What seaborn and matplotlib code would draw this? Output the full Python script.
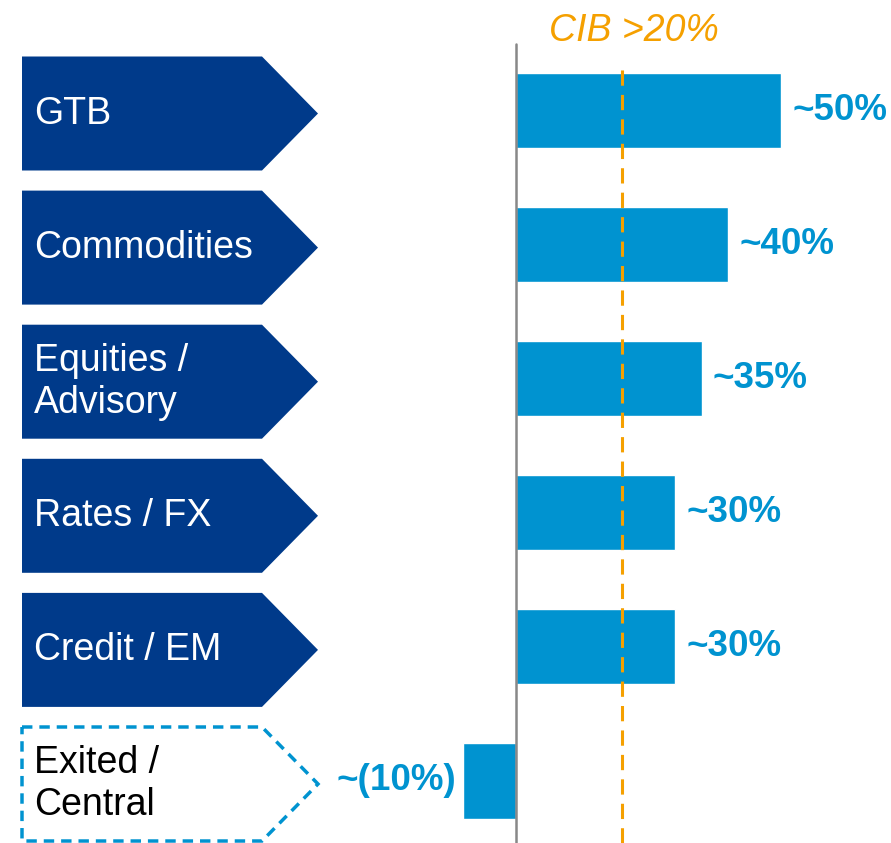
import matplotlib
matplotlib.use("Agg")
import matplotlib.pyplot as plt
import matplotlib.transforms as mtransforms
from matplotlib.patches import Polygon
import seaborn as sns
import pandas as pd

categories = ["GTB", "Commodities", "Equities /\nAdvisory", "Rates / FX", "Credit / EM", "Exited /\nCentral"]
values = [50, 40, 35, 30, 30, -10]
value_labels = ["~50%", "~40%", "~35%", "~30%", "~30%", "~(10%)"]
threshold = 20
threshold_label = "CIB >20%"

NAVY = "#003A8A"
BLUE = "#0093D0"
ORANGE = "#F5A000"
GRAY = "#888888"

sns.set_style("white")
plt.rcParams["font.family"] = ["Liberation Sans", "DejaVu Sans"]

df = pd.DataFrame({"cat": categories, "val": values})

fig = plt.figure(figsize=(8.91, 8.43), dpi=100)
ax = fig.add_axes([0, 0, 1, 1])
sns.barplot(data=df, y="cat", x="val", orient="h", color=BLUE, width=0.56,
            saturation=1, ax=ax)

W, H = 891, 843
x0px, scale = 516, 5.3
c0px, step = 110.5, 134.1
ax.set_xlim((0 - x0px) / scale, (W - x0px) / scale)
ax.set_ylim((H - c0px) / step, (0 - c0px) / step)
ax.axis("off")

# zero line and threshold
ax.axvline(0, ymin=0, ymax=1 - 44 / H, color=GRAY, lw=1.8, zorder=1)
ax.axvline(threshold, ymin=0, ymax=1 - 64 / H, color=ORANGE, lw=2.2,
           ls=(0, (5, 3)), zorder=3)
ax.text(threshold + 2.2, (31 - c0px) / step, threshold_label, color=ORANGE,
        fontsize=27, style="italic", ha="center", va="center")

# value labels
pos_labels = [l if v >= 0 else "" for l, v in zip(value_labels, values)]
neg_labels = [l if v < 0 else "" for l, v in zip(value_labels, values)]
for cont in ax.containers:
    ax.bar_label(cont, labels=pos_labels, padding=8, fontsize=26.5,
                 fontweight="bold", color=BLUE)
    ax.bar_label(cont, labels=neg_labels, padding=5, fontsize=26.5,
                 fontweight="bold", color=BLUE)

# chevrons
tr = mtransforms.blended_transform_factory(ax.transAxes, ax.transData)
xl, xb, xt = 22 / W, 262 / W, 318 / W
hh = 57 / step
dy = 3 / step
for i, cat in enumerate(categories):
    c = i + dy
    pts = [(xl, c - hh), (xb, c - hh), (xt, c), (xb, c + hh), (xl, c + hh)]
    last = i == len(categories) - 1
    if last:
        poly = Polygon(pts, closed=True, transform=tr, facecolor="white",
                       edgecolor=BLUE, lw=2.5, ls=(0, (3, 2)), clip_on=False)
        tc = "black"
    else:
        poly = Polygon(pts, closed=True, transform=tr, facecolor=NAVY,
                       edgecolor="none", clip_on=False)
        tc = "white"
    ax.add_patch(poly)
    ax.text(34 / W, c, cat, transform=tr, color=tc, fontsize=27,
            ha="left", va="center", linespacing=1.2)

fig.savefig("out.png", dpi=100)
